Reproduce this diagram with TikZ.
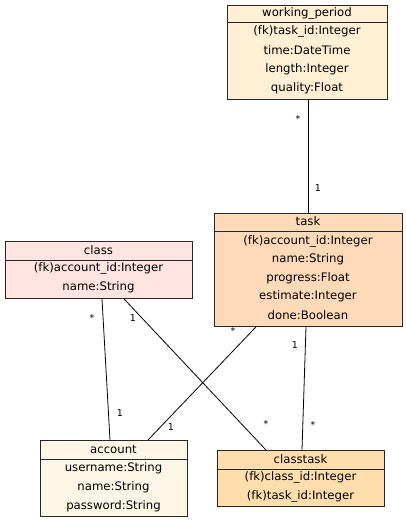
\documentclass[tikz,border=0pt]{standalone}
\usepackage{fontspec}
\setmainfont{DejaVu Sans}
\definecolor{cwp}{HTML}{FFEFD5}
\definecolor{ctask}{HTML}{FFDAB9}
\definecolor{cclass}{HTML}{FFE4E1}
\definecolor{cacc}{HTML}{FDF5E6}
\definecolor{cct}{HTML}{FFDEAD}
\tikzset{
  box/.style={draw=black!85, line width=0.9pt, inner sep=0, anchor=north west},
  sep/.style={draw=black!85, line width=0.9pt},
  txt/.style={inner sep=0, font=\fontsize{11.7}{13}\selectfont},
  mult/.style={inner sep=0, font=\fontsize{9.5}{11}\selectfont},
  conn/.style={draw=black, line width=0.8pt}
}
\begin{document}
\begin{tikzpicture}[x=1pt,y=-1pt]
\useasboundingbox (0,0) rectangle (406,523);
% working_period
\node[box, fill=cwp, minimum width=160pt, minimum height=94pt] (wp) at (227,5) {};
\draw[sep] (227,22) -- (387,22);
\node[txt] (wph) at (307,13.5) {working\_period};
\node[txt] (wp1) at (307,31.5) {(fk)task\_id:Integer};
\node[txt] (wp2) at (307,50.5) {time:DateTime};
\node[txt] (wp3) at (307,69.5) {length:Integer};
\node[txt] (wp4) at (307,88.5) {quality:Float};
% task
\node[box, fill=ctask, minimum width=188pt, minimum height=113pt] (task) at (214,213) {};
\draw[sep] (214,231) -- (402,231);
\node[txt] (tkh) at (308,221.5) {task};
\node[txt] (tk1) at (308,241) {(fk)account\_id:Integer};
\node[txt] (tk2) at (308,259.5) {name:String};
\node[txt] (tk3) at (308,278) {progress:Float};
\node[txt] (tk4) at (308,296.5) {estimate:Integer};
\node[txt] (tk5) at (308,315) {done:Boolean};
% class
\node[box, fill=cclass, minimum width=187pt, minimum height=57pt] (cls) at (5,241) {};
\draw[sep] (5,260) -- (192,260);
\node[txt] (clh) at (98.5,250) {class};
\node[txt] (cl1) at (98.5,268.5) {(fk)account\_id:Integer};
\node[txt] (cl2) at (98.5,287) {name:String};
% account
\node[box, fill=cacc, minimum width=147pt, minimum height=76pt] (acc) at (40,440) {};
\draw[sep] (40,459) -- (187,459);
\node[txt] (ach) at (113.5,449) {account};
\node[txt] (ac1) at (113.5,468.5) {username:String};
\node[txt] (ac2) at (113.5,487) {name:String};
\node[txt] (ac3) at (113.5,506) {password:String};
% classtask
\node[box, fill=cct, minimum width=167pt, minimum height=56pt] (ct) at (217,450) {};
\draw[sep] (217,469) -- (384,469);
\node[txt] (cth) at (300.5,459) {classtask};
\node[txt] (ct1) at (300.5,477.5) {(fk)class\_id:Integer};
\node[txt] (ct2) at (300.5,496) {(fk)task\_id:Integer};
% connectors
\draw[conn] ([xshift=81pt]wp.south west) -- ([xshift=94pt]task.north west);
\draw[conn] ([xshift=97pt]cls.south west) -- ([xshift=70pt]acc.north west);
\draw[conn] ([xshift=119pt]cls.south west) -- ([xshift=49pt]ct.north west);
\draw[conn] ([xshift=42pt]task.south west) -- ([xshift=108pt]acc.north west);
\draw[conn] ([xshift=92pt]task.south west) -- ([xshift=85pt]ct.north west);
% multiplicities
\node[mult] (m1) at (298,119) {*};
\node[mult] (m2) at (318,188) {1};
\node[mult] (m3) at (92,318) {*};
\node[mult] (m4) at (120,413) {1};
\node[mult] (m5) at (133,318) {1};
\node[mult] (m6) at (266,424) {*};
\node[mult] (m7) at (233,331) {*};
\node[mult] (m8) at (171,427) {1};
\node[mult] (m9) at (295,345) {1};
\node[mult] (m10) at (313,425) {*};
\end{tikzpicture}
\end{document}
